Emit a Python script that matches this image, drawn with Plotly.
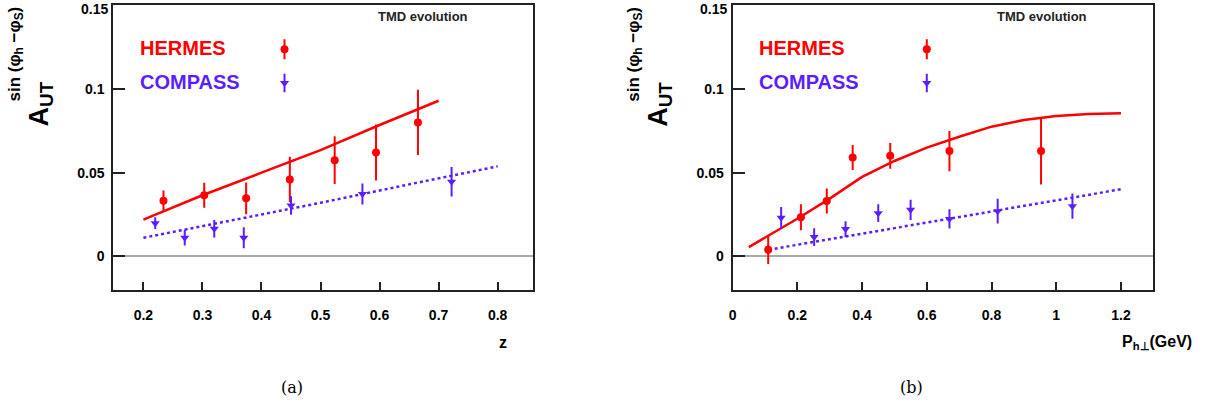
import plotly.graph_objects as go

W, H = 1205, 404

# ---------------- data: panel (a), z dependence ----------------
z_hermes = [0.234, 0.303, 0.374, 0.448, 0.524, 0.594, 0.665]
a_hermes_z = [0.0333, 0.0365, 0.0347, 0.0460, 0.0575, 0.0621, 0.0800]
e_hermes_z = [0.0060, 0.0075, 0.0095, 0.0135, 0.0143, 0.0167, 0.0195]

z_compass = [0.220, 0.270, 0.320, 0.370, 0.450, 0.571, 0.722]
a_compass_z = [0.0198, 0.0111, 0.0165, 0.0111, 0.0304, 0.0373, 0.0446]
e_compass_z = [0.0035, 0.0046, 0.0052, 0.0063, 0.0055, 0.0063, 0.0088]

z_curve_h = [0.2, 0.3, 0.4, 0.5, 0.6, 0.7]
a_curve_h_z = [0.0220, 0.0365, 0.0500, 0.0635, 0.0785, 0.0930]
z_curve_c = [0.2, 0.35, 0.5, 0.65, 0.8]
a_curve_c_z = [0.0111, 0.0215, 0.0320, 0.0430, 0.0538]

# ---------------- data: panel (b), P_hT dependence ----------------
p_hermes = [0.110, 0.211, 0.291, 0.371, 0.487, 0.670, 0.953]
a_hermes_p = [0.0040, 0.0234, 0.0331, 0.0591, 0.0601, 0.0629, 0.0629]
e_hermes_p = [0.0086, 0.0078, 0.0075, 0.0075, 0.0077, 0.0120, 0.0200]

p_compass = [0.150, 0.252, 0.349, 0.450, 0.550, 0.670, 0.819, 1.050]
a_compass_p = [0.0230, 0.0115, 0.0163, 0.0258, 0.0278, 0.0224, 0.0270, 0.0300]
e_compass_p = [0.0065, 0.0053, 0.0047, 0.0053, 0.0060, 0.0058, 0.0074, 0.0075]

p_curve_h = [0.05, 0.1, 0.2, 0.3, 0.4, 0.5, 0.6, 0.7, 0.8, 0.9, 1.0, 1.1, 1.2]
a_curve_h_p = [0.0055, 0.0110, 0.0225, 0.0345, 0.0475, 0.0570, 0.0650,
               0.0715, 0.0775, 0.0815, 0.0838, 0.0850, 0.0855]
p_curve_c = [0.13, 0.4, 0.7, 1.0, 1.2]
a_curve_c_p = [0.0046, 0.0136, 0.0235, 0.0335, 0.0401]

# legend key positions (data coordinates of each panel) and errors
leg_key_a_x = 0.439
leg_key_b_x = 0.600
leg_key_y = [0.1238, 0.1036]
leg_key_err = [0.0060, 0.0055]

y_ticks = [0, 0.05, 0.1, 0.15]
# the top label "0.15" sits at the frame edge; it is drawn as a separate
# text a few pixels lower (as in the original) so it is not clipped
y_ticktext = ["0", "0.05", "0.1", ""]
y_top_label = "0.15"
x_ticks_a = [0.2, 0.3, 0.4, 0.5, 0.6, 0.7, 0.8]
x_ticktext_a = ["0.2", "0.3", "0.4", "0.5", "0.6", "0.7", "0.8"]
x_ticks_b = [0, 0.2, 0.4, 0.6, 0.8, 1.0, 1.2]
x_ticktext_b = ["0", "0.2", "0.4", "0.6", "0.8", "1", "1.2"]

RED = "#ff0000"
BLUE = "#5b1fff"
FONT = "Liberation Sans"


def px(x):
    return x / W


def py(y):
    return 1 - y / H


fig = go.Figure()


def add_panel(xa, ya, xc_h, yc_h, xc_c, yc_c, xh, yh, eh, xcm, ycm, ecm, keyx):
    fig.add_trace(go.Scatter(x=xc_h, y=yc_h, mode="lines", xaxis=xa, yaxis=ya,
                             line=dict(color=RED, width=2.5), showlegend=False))
    fig.add_trace(go.Scatter(x=xc_c, y=yc_c, mode="lines", xaxis=xa, yaxis=ya,
                             line=dict(color=BLUE, width=2.5, dash="dot"),
                             showlegend=False))
    fig.add_trace(go.Scatter(x=xh, y=yh, mode="markers", xaxis=xa, yaxis=ya,
                             marker=dict(color=RED, size=8, symbol="circle"),
                             error_y=dict(type="data", array=eh, width=0,
                                          thickness=2, color=RED),
                             showlegend=False))
    fig.add_trace(go.Scatter(x=xcm, y=ycm, mode="markers", xaxis=xa, yaxis=ya,
                             marker=dict(color=BLUE, size=8, symbol="triangle-down"),
                             error_y=dict(type="data", array=ecm, width=0,
                                          thickness=2, color=BLUE),
                             showlegend=False))
    # legend keys
    fig.add_trace(go.Scatter(x=[keyx], y=[leg_key_y[0]], mode="markers",
                             xaxis=xa, yaxis=ya,
                             marker=dict(color=RED, size=8, symbol="circle"),
                             error_y=dict(type="data", array=[leg_key_err[0]],
                                          width=0, thickness=2, color=RED),
                             showlegend=False))
    fig.add_trace(go.Scatter(x=[keyx], y=[leg_key_y[1]], mode="markers",
                             xaxis=xa, yaxis=ya,
                             marker=dict(color=BLUE, size=8, symbol="triangle-down"),
                             error_y=dict(type="data", array=[leg_key_err[1]],
                                          width=0, thickness=2, color=BLUE),
                             showlegend=False))


add_panel("x", "y", z_curve_h, a_curve_h_z, z_curve_c, a_curve_c_z,
          z_hermes, a_hermes_z, e_hermes_z, z_compass, a_compass_z, e_compass_z,
          leg_key_a_x)
add_panel("x2", "y2", p_curve_h, a_curve_h_p, p_curve_c, a_curve_c_p,
          p_hermes, a_hermes_p, e_hermes_p, p_compass, a_compass_p, e_compass_p,
          leg_key_b_x)

frame = dict(showline=True, linecolor="#222222", linewidth=2, mirror=True,
             showgrid=False, ticks="inside", tickcolor="#222222", tickwidth=1.5,
             ticklabeloverflow="allow", automargin=False,
             tickfont=dict(family=FONT, size=14, color="black", weight="bold"))

xcommon = dict(frame, ticklen=8, zeroline=False, ticklabelstandoff=12)
ycommon = dict(frame, ticklen=12, zeroline=True, zerolinecolor="#aaaaaa",
               zerolinewidth=2, range=[-0.0198, 0.1502], tickvals=y_ticks,
               ticktext=y_ticktext, ticklabelstandoff=4)

ytop, ybot = 5, 289.5
fig.update_layout(
    width=W, height=H, margin=dict(l=0, r=0, t=0, b=0, autoexpand=False),
    paper_bgcolor="white", plot_bgcolor="white", showlegend=False,
    xaxis=dict(xcommon, domain=[px(113.3), px(533.3)], range=[0.149, 0.8604],
               tickvals=x_ticks_a, ticktext=x_ticktext_a, anchor="y"),
    yaxis=dict(ycommon, domain=[py(ybot), py(ytop)], anchor="x"),
    xaxis2=dict(xcommon, domain=[px(732.6), px(1152.7)], range=[0, 1.298],
                tickvals=x_ticks_b, ticktext=x_ticktext_b, anchor="y2"),
    yaxis2=dict(ycommon, domain=[py(ybot), py(ytop)], anchor="x2"),
)

ann = []
for off, lab in [(0, "(a)"), (619.3, "(b)")]:
    # top y tick label
    ann.append(dict(x=px(109.5 + off), y=py(8.5), xref="paper", yref="paper",
                    text=y_top_label, showarrow=False, xanchor="right",
                    yanchor="middle",
                    font=dict(family=FONT, size=14, color="black", weight="bold")))
    # legend texts
    ann.append(dict(x=px(138 + off), y=py(48), xref="paper", yref="paper",
                    text="HERMES", showarrow=False, xanchor="left", yanchor="middle",
                    font=dict(family=FONT, size=20, color=RED, weight="bold")))
    ann.append(dict(x=px(138 + off), y=py(82), xref="paper", yref="paper",
                    text="COMPASS", showarrow=False, xanchor="left", yanchor="middle",
                    font=dict(family=FONT, size=20, color=BLUE, weight="bold")))
    ann.append(dict(x=px(376 + off), y=py(16), xref="paper", yref="paper",
                    text="TMD evolution", showarrow=False, xanchor="left",
                    yanchor="middle",
                    font=dict(family=FONT, size=13, color="#222222", weight="bold")))
    # y title
    ann.append(dict(x=px(40 + off), y=py(129), xref="paper", yref="paper",
                    text="A<sub>UT</sub>", showarrow=False, textangle=-90,
                    xanchor="center", yanchor="bottom",
                    font=dict(family=FONT, size=27, color="black", weight="bold")))
    ann.append(dict(x=px(15 + off), y=py(104), xref="paper", yref="paper",
                    text="sin (φ<sub>h</sub> −φ<sub>S</sub>)", showarrow=False,
                    textangle=-90, xanchor="center", yanchor="bottom",
                    font=dict(family=FONT, size=17, color="black", weight="bold")))
    ann.append(dict(x=px(292 + off), y=py(387), xref="paper", yref="paper",
                    text=lab, showarrow=False, xanchor="center", yanchor="middle",
                    font=dict(family="DejaVu Serif", size=16, color="black")))

ann.append(dict(x=px(503), y=py(342), xref="paper", yref="paper", text="z",
                showarrow=False, xanchor="center", yanchor="middle",
                font=dict(family=FONT, size=16, color="black", weight="bold")))
ann.append(dict(x=px(1194), y=py(342), xref="paper", yref="paper",
                text="P<sub>h⊥</sub>(GeV)", showarrow=False, xanchor="right",
                yanchor="middle",
                font=dict(family=FONT, size=16, color="black", weight="bold")))
fig.update_layout(annotations=ann)

# Remove the default 8px page margin synchronously (right after the
# newPlot call, not inside its promise) so the figure sits at the origin.
page_css = ("document.body.style.margin='0';"
            "document.body.style.padding='0';"
            "document.body.style.overflow='hidden';")
fig.write_html("out.html",
               config={"displayModeBar": False},
               post_script="}); " + page_css + " (function(){")
